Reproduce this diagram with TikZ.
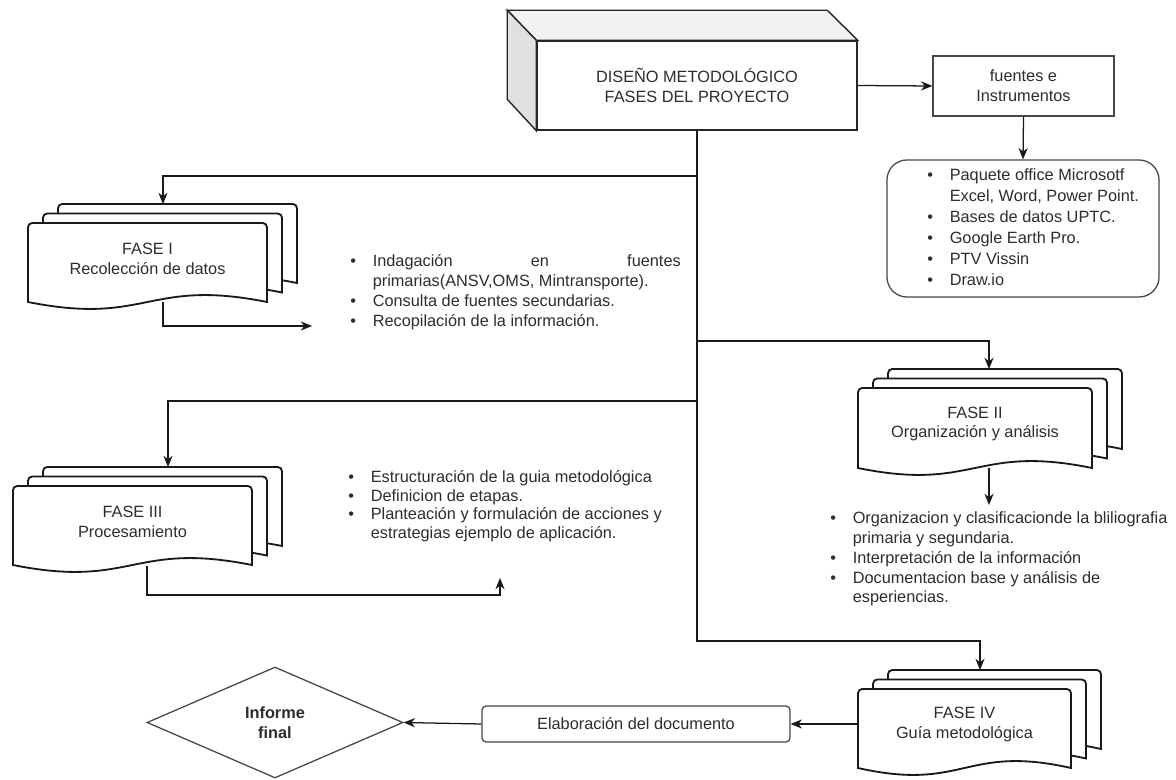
\documentclass[tikz,border=0pt]{standalone}
\usepackage{fontspec}
\setmainfont{Liberation Sans}
\usetikzlibrary{arrows.meta,shapes.geometric}
\definecolor{txtgray}{RGB}{45,45,45}
\definecolor{linegray}{RGB}{70,70,70}
\definecolor{topgray}{RGB}{242,242,242}
\definecolor{sidegray}{RGB}{224,224,224}

% bullet and hanging indent for the lists
\newcommand{\bul}{\makebox[16pt][l]{\textbullet}}
\newcommand{\ind}{\hspace*{16pt}}

% one sheet of a stacked document: x, y (top left), w, h
\newcommand{\docsheet}[4]{%
  \filldraw[fasesheet] (#1,#2+#4) [rounded corners=3pt] -- (#1,#2) -- (#1+#3,#2) [sharp corners] -- (#1+#3,#2+#4)
    .. controls (#1+0.5*#3,#2+#4-24) and (#1+0.5*#3,#2+#4+24) .. (#1,#2+#4) -- cycle;}

% three sheets plus the named text node: name, x, y, w, h, text
\newcommand{\docstack}[6]{%
  \docsheet{#2+30}{#3-19}{#4}{#5}
  \docsheet{#2+15}{#3-9.5}{#4}{#5}
  \docsheet{#2}{#3}{#4}{#5}
  \node[fasetext, minimum width=#4*0.025cm, minimum height=0.9*#5*0.025cm] (#1) at (#2+0.5*#4,#3+0.45*#5) {#6};}

\begin{document}
\begin{tikzpicture}[x=0.025cm, y=-0.025cm,
  txt/.style={text=txtgray, font=\fontsize{11.6}{14.2}\selectfont},
  arr/.style={-{Stealth[length=8pt,width=6.5pt,inset=2.5pt]}, line width=0.9pt, draw=black!90},
  fasesheet/.style={draw=black!90, line width=1.3pt, fill=white},
  fasetext/.style={txt, align=center, inner sep=0pt},
  listtext/.style={txt, anchor=north west, inner sep=0pt, align=left},
  box/.style={draw=linegray, line width=0.9pt, fill=white, txt, align=center, inner sep=0pt}]

% Background
\fill[white] (0,0) rectangle (1176,780);
\useasboundingbox (0,0) rectangle (1176,780);

% Title cube
\node[box, draw=black!85, line width=1pt, minimum width=8cm, minimum height=2.225cm] (cube) at (697,85.5)
  {DISEÑO METODOLÓGICO\\FASES DEL PROYECTO};
\filldraw[fill=topgray, draw=black!85, line width=1pt] (cube.north west) -- ++(-29,-30) -- ++(320,0) -- (cube.north east) -- cycle;
\filldraw[fill=sidegray, draw=black!85, line width=1pt] (cube.north west) -- ++(-29,-30) -- ++(0,89) -- (cube.south west) -- cycle;

% Tools
\node[box, minimum width=4.525cm, minimum height=1.5cm] (fuentes) at (1023.5,86) {fuentes e\\Instrumentos};
\node[box, rounded corners=0.5cm, minimum width=6.8cm, minimum height=3.425cm] (herr) at (1023,228.5) {};
\node[listtext, font=\fontsize{11.6}{15}\selectfont] (l0) at (927,168) {%
  \bul Paquete office Microsotf\\
  \ind Excel, Word, Power Point.\\
  \bul Bases de datos UPTC.\\
  \bul Google Earth Pro.\\
  \bul PTV Vissin\\
  \bul Draw.io};

% Phases
\docstack{f1}{28}{223}{239}{79}{FASE I\\Recolección de datos}
\docstack{f2}{858}{388}{234}{80}{FASE II\\Organización y análisis}
\docstack{f3}{13}{486}{239}{79}{FASE III\\Procesamiento}
\docstack{f4}{858}{689}{213}{79}{FASE IV\\Guía metodológica}

% Phase contents
\node[listtext] (l1) at (350,254) {%
  \bul\makebox[219pt][s]{Indagación en fuentes}\\
  \ind primarias(ANSV,OMS, Mintransporte).\\
  \bul Consulta de fuentes secundarias.\\
  \bul Recopilación de la información.};
\node[listtext] (l2) at (830,511) {%
  \bul Organizacion y clasificacionde la bliliografia\\
  \ind primaria y segundaria.\\
  \bul Interpretación de la información\\
  \bul Documentacion base y análisis de\\
  \ind esperiencias.};
\node[listtext, font=\fontsize{11.6}{13.4}\selectfont] (l3) at (348,470) {%
  \bul Estructuración de la guia metodológica\\
  \bul Definicion de etapas.\\
  \bul Planteación y formulación de acciones y\\
  \ind estrategias ejemplo de aplicación.};

% Final steps
\node[box, rounded corners=3pt, minimum width=7.7cm, minimum height=0.9cm] (elab) at (636,724) {Elaboración del documento};
\node[box, diamond, minimum width=6.4cm, minimum height=2.775cm, font=\fontsize{11.6}{14.2}\selectfont\bfseries] (inf) at (275,722.5) {Informe\\final};

% Junctions on the trunk
\coordinate (j1) at (697,176);
\coordinate (j2) at (697,341);
\coordinate (j3) at (697,401);
\coordinate (j4) at (697,641);
\coordinate (f1in) at (163,204);
\coordinate (f2in) at (989,369);
\coordinate (f3in) at (168,467);
\coordinate (f4in) at (980,670);
\coordinate (f1out) at (163,302);
\coordinate (f2out) at (989,468);
\coordinate (f3out) at (147,566);
\coordinate (l1tip) at (312,326);
\coordinate (l2tip) at (989,505);
\coordinate (l3tip) at (500,578);

% Connectors
\draw[arr] (cube.south) -- (j4) -| (f4in);
\draw[arr] (j1) -| (f1in);
\draw[arr] (j2) -| (f2in);
\draw[arr] (j3) -| (f3in);
\draw[arr] (cube.east) -- (fuentes.west);
\draw[arr] (fuentes.south) -- (herr.north);
\draw[arr] (f1out) |- (l1tip);
\draw[arr] (f2out) -- (l2tip);
\draw[arr] (f3out) -- ++(0,29) -| (l3tip);
\draw[arr] (f4.west |- elab.east) -- (elab.east);
\draw[arr] (elab.west) -- (inf.east);

\end{tikzpicture}
\end{document}
